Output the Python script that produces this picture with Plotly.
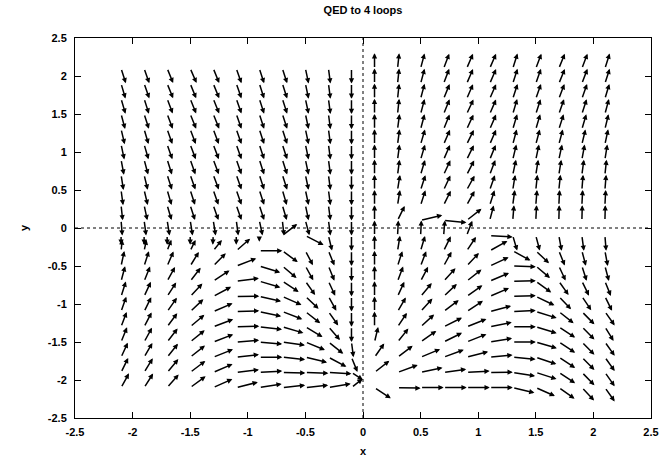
import math
import plotly.graph_objects as go

# grid of vector tails
x_vals = [-2.1, -1.9, -1.7, -1.5, -1.3, -1.1, -0.9, -0.7, -0.5, -0.3, -0.1,
          0.1, 0.3, 0.5, 0.7, 0.9, 1.1, 1.3, 1.5, 1.7, 1.9, 2.1]
y_vals = [2.1, 1.9, 1.7, 1.5, 1.3, 1.1, 0.9, 0.7, 0.5, 0.3, 0.1,
          -0.1, -0.3, -0.5, -0.7, -0.9, -1.1, -1.3, -1.5, -1.7, -1.9, -2.1]

# direction of each vector (degrees, data space), one row per y value
angles = [
    [-78, -77, -75, -74, -75, -77, -78, -78, -82, -85, -90, 90, 86, 80, 76, 74, 74, 78, 76, 75, 76, 78],
    [-79, -77, -75, -75, -75, -77, -78, -78, -82, -85, -90, 90, 86, 80, 76, 74, 74, 78, 77, 75, 76, 78],
    [-79, -78, -76, -75, -75, -77, -78, -78, -82, -85, -90, 90, 86, 80, 75, 74, 74, 78, 77, 76, 77, 79],
    [-80, -78, -76, -75, -75, -77, -78, -78, -82, -85, -90, 90, 86, 80, 75, 73, 74, 79, 78, 77, 78, 80],
    [-81, -79, -77, -76, -76, -77, -78, -78, -82, -85, -90, 90, 85, 80, 75, 73, 74, 79, 79, 78, 79, 81],
    [-82, -79, -77, -76, -76, -77, -78, -78, -82, -85, -90, 90, 85, 79, 74, 72, 74, 80, 80, 80, 81, 82],
    [-83, -80, -78, -77, -76, -77, -78, -78, -82, -85, -90, 90, 85, 79, 74, 72, 75, 81, 82, 82, 83, 84],
    [-84, -81, -78, -77, -76, -77, -78, -78, -82, -85, -90, 90, 85, 79, 73, 71, 76, 82, 84, 84, 85, 86],
    [-85, -81, -79, -78, -77, -77, -78, -79, -82, -85, -90, 90, 84, 78, 73, 70, 77, 84, 86, 86, 87, 87],
    [-86, -82, -79, -78, -77, -77, -78, -79, -82, -85, -90, 90, 84, 78, 72, 70, 78, 85, 87, 88, 88, 88],
    [-87, -85, -84, -84, -84, -85, -82, -86, -80, -85, -90, 90, 72, 20, -8, 50, 80, 87, 88, 89, 89, 89],
    [-90, -90, -90, -90, -92, -90, -90, 50, -38, -81, -90, 90, 88, 88, 87, 76, -5, -79, -80, -83, -85, -87],
    [86, 82, 76, 72, 62, 53, 0, -48, -71, -75, -90, 90, 84, 79, 72, 66, 40, -40, -55, -75, -80, -83],
    [82, 78, 74, 68, 57, 30, -25, -52, -70, -75, -90, 90, 78, 76, 70, 58, 35, -3, -52, -73, -78, -80],
    [80, 75, 70, 63, 45, 11, -24, -45, -65, -73, -90, 90, 76, 71, 59, 50, 33, 2, -48, -65, -72, -75],
    [78, 73, 67, 58, 39, 1, -19, -34, -55, -70, -90, 90, 73, 61, 55, 47, 33, 3, -36, -58, -66, -72],
    [77, 72, 65, 55, 33, 3, -18, -30, -50, -65, -90, 90, 69, 59, 49, 45, 22, 4, -25, -50, -57, -65],
    [76, 71, 64, 52, 30, 2, -10, -24, -42, -60, -90, 90, 66, 54, 37, 31, 17, 0, -25, -45, -57, -68],
    [75, 70, 63, 51, 30, 7, -8, -12, -32, -50, -85, 81, 62, 47, 37, 31, 14, 0, -24, -45, -57, -65],
    [73, 69, 62, 50, 31, 10, 0, -9, -20, -39, -75, 65, 49, 32, 29, 21, 8, -8, -27, -45, -57, -65],
    [72, 68, 61, 49, 33, 10, 5, -2, -3, -5, -45, 50, 29, 18, 12, 5, 1, -14, -26, -45, -57, -65],
    [70, 67, 60, 48, 34, 21, 14, 9, 9, 15, 50, -45, -2, 0, 0, 0, 0, -20, -34, -47, -58, -65],
]

default_length = 0.2
# (row, column, length) for vectors that are shorter than the default
short_vectors = [
    (11, 0, 0.12), (11, 1, 0.12), (11, 2, 0.12), (11, 3, 0.12), (11, 4, 0.12),
    (11, 5, 0.12), (11, 6, 0.08),
    (12, 0, 0.15), (12, 1, 0.15), (12, 2, 0.15), (12, 3, 0.15), (12, 4, 0.16),
    (20, 10, 0.14), (21, 10, 0.15),
]

tick_vals = [-2.5, -2, -1.5, -1, -0.5, 0, 0.5, 1, 1.5, 2, 2.5]
tick_text = ["-2.5", "-2", "-1.5", "-1", "-0.5", "0", "0.5", "1", "1.5", "2", "2.5"]

lengths = {(r, c): L for r, c, L in short_vectors}

annotations = []
for r, y0 in enumerate(y_vals):
    for c, x0 in enumerate(x_vals):
        a = math.radians(angles[r][c])
        L = lengths.get((r, c), default_length)
        annotations.append(dict(
            x=x0 + L * math.cos(a), y=y0 + L * math.sin(a),
            ax=x0, ay=y0, xref="x", yref="y", axref="x", ayref="y",
            showarrow=True, text="", arrowhead=2, arrowsize=0.7,
            arrowwidth=1.5, arrowcolor="black", standoff=0, startstandoff=0,
        ))

fig = go.Figure()
fig.add_trace(go.Scatter(x=[None], y=[None], mode="markers", showlegend=False,
                         hoverinfo="skip"))

font_b = dict(family="Liberation Sans, Arial, sans-serif", size=11, color="black", weight="bold")

axis_common = dict(
    showgrid=False, zeroline=False, showline=True, linecolor="black", linewidth=1,
    ticks="inside", ticklen=6, tickcolor="black", mirror="allticks",
    tickvals=tick_vals, ticktext=tick_text, tickfont=font_b, automargin=False,
)

fig.update_layout(
    width=664, height=458,
    margin=dict(l=75, r=13, t=38, b=40, autoexpand=False),
    paper_bgcolor="white", plot_bgcolor="white",
    title=dict(text="QED to 4 loops", x=0.5, xref="paper", xanchor="center",
               y=1 - 10 / 458, yanchor="middle", font=font_b),
    xaxis=dict(range=[-2.5, 2.5], ticklabelstandoff=4,
               title=dict(text="x", font=font_b, standoff=10), **axis_common),
    yaxis=dict(range=[-2.5, 2.5], ticklabelstandoff=5,
               title=dict(text="y", font=font_b, standoff=16), **axis_common),
    annotations=annotations,
    shapes=[
        dict(type="line", xref="x", yref="y", x0=0, x1=0, y0=-2.5, y1=2.5,
             line=dict(color="black", width=1, dash="dot"), layer="below"),
        dict(type="line", xref="x", yref="y", x0=-2.5, x1=2.5, y0=0, y1=0,
             line=dict(color="black", width=1, dash="dot"), layer="below"),
    ],
)

fig.write_html("out.html", config={"displayModeBar": False},
               post_script="document.body.style.margin='0';")
